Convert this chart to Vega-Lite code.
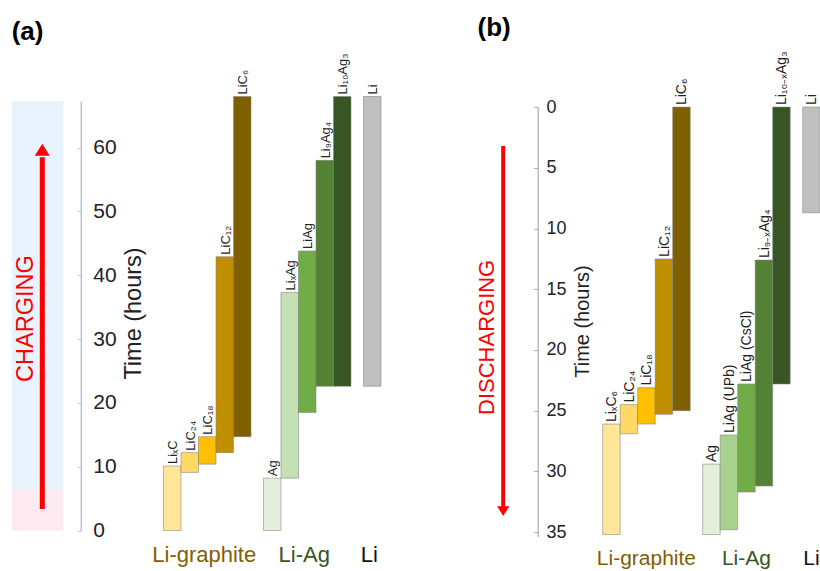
{
  "$schema": "https://vega.github.io/schema/vega-lite/v6.json",
  "padding": {"left": 11.7, "top": 15, "right": 0, "bottom": 0},
  "config": {"view": {"stroke": null}, "font": "Liberation Sans"},
  "datasets": {
    "barsA": [
      {"group": "Li-graphite", "step": 1, "label": "LiₓC", "start": 0, "end": 10.1},
      {"group": "Li-graphite", "step": 2, "label": "LiC₂₄", "start": 9.1, "end": 12.2},
      {"group": "Li-graphite", "step": 3, "label": "LiC₁₈", "start": 10.4, "end": 14.7},
      {"group": "Li-graphite", "step": 4, "label": "LiC₁₂", "start": 12.2, "end": 42.9},
      {"group": "Li-graphite", "step": 5, "label": "LiC₆", "start": 14.7, "end": 68},
      {"group": "Li-Ag", "step": 1, "label": "Ag", "start": 0, "end": 8.2},
      {"group": "Li-Ag", "step": 2, "label": "LiₓAg", "start": 8.2, "end": 37.3},
      {"group": "Li-Ag", "step": 3, "label": "LiAg", "start": 18.5, "end": 43.8},
      {"group": "Li-Ag", "step": 4, "label": "Li₉Ag₄", "start": 22.6, "end": 58.0},
      {"group": "Li-Ag", "step": 5, "label": "Li₁₀Ag₃", "start": 22.6, "end": 68},
      {"group": "Li", "step": 1, "label": "Li", "start": 22.6, "end": 68}
    ],
    "barsB": [
      {"group": "Li-graphite", "step": 1, "label": "LiₓC₆", "start": 26.1, "end": 35.2},
      {"group": "Li-graphite", "step": 2, "label": "LiC₂₄", "start": 24.5, "end": 26.9},
      {"group": "Li-graphite", "step": 3, "label": "LiC₁₈", "start": 23.1, "end": 26.1},
      {"group": "Li-graphite", "step": 4, "label": "LiC₁₂", "start": 12.5, "end": 25.3},
      {"group": "Li-graphite", "step": 5, "label": "LiC₆", "start": 0, "end": 25.0},
      {"group": "Li-Ag", "step": 1, "label": "Ag", "start": 29.4, "end": 35.2},
      {"group": "Li-Ag", "step": 2, "label": "LiAg (UPb)", "start": 27.0, "end": 34.8},
      {"group": "Li-Ag", "step": 3, "label": "LiAg (CsCl)", "start": 22.8, "end": 31.7},
      {"group": "Li-Ag", "step": 4, "label": "Li₉₋ₓAg₄", "start": 12.6, "end": 31.2},
      {"group": "Li-Ag", "step": 5, "label": "Li₁₀₋ₓAg₃", "start": 0, "end": 22.8},
      {"group": "Li", "step": 1, "label": "Li", "start": 0, "end": 8.7}
    ],
    "groups": [
      {"group": "Li-graphite", "step": 3},
      {"group": "Li-Ag", "step": 3},
      {"group": "Li", "step": 1}
    ]
  },
  "bounds": "flush",
  "spacing": 7.1,
  "resolve": {"scale": {"x": "independent", "y": "independent", "color": "independent", "xOffset": "independent"}},
  "hconcat": [
    {
      "width": 131.2,
      "height": 429.5,
      "data": {"values": [{}]},
      "layer": [
        {"mark": {"type": "rect", "color": "#e9f3fd"},
         "encoding": {
           "x": {"datum": 0, "type": "quantitative", "scale": {"domain": [0, 2.5426], "nice": false, "zero": false}, "axis": null},
           "x2": {"datum": 1},
           "y": {"datum": 6.5, "type": "quantitative", "scale": {"domain": [0, 67.3], "nice": false, "zero": false}, "axis": null},
           "y2": {"datum": 67.3}}},
        {"mark": {"type": "rect", "color": "#fdebf1"},
         "encoding": {
           "x": {"datum": 0, "type": "quantitative"},
           "x2": {"datum": 1},
           "y": {"datum": 0, "type": "quantitative"},
           "y2": {"datum": 6.5}}},
        {"mark": {"type": "rule", "color": "#ff0000", "strokeWidth": 5},
         "encoding": {
           "x": {"datum": 0.593, "type": "quantitative"},
           "y": {"datum": 3.35, "type": "quantitative"},
           "y2": {"datum": 58.5}}},
        {"mark": {"type": "point", "shape": "M-1,0.8L1,0.8L0,-0.8Z", "size": 225, "filled": true, "color": "#ff0000", "opacity": 1, "strokeWidth": 0},
         "encoding": {
           "x": {"datum": 0.593, "type": "quantitative"},
           "y": {"datum": 59.65, "type": "quantitative"}}},
        {"mark": {"type": "text", "text": "CHARGING", "angle": -90, "align": "center", "baseline": "alphabetic", "fontSize": 23.5, "color": "#ff0000", "font": "Liberation Sans"},
         "encoding": {
           "x": {"datum": 0.422, "type": "quantitative"},
           "y": {"datum": 33.2, "type": "quantitative"}}},
        {"mark": {"type": "text", "text": "(a)", "align": "left", "baseline": "alphabetic", "fontSize": 26, "fontWeight": "bold", "color": "#000000", "font": "Liberation Sans"},
         "encoding": {
           "x": {"datum": 0, "type": "quantitative"},
           "y": {"datum": 76.89, "type": "quantitative"}}}
      ]
    },
    {
      "width": 312.9,
      "height": 429.5,
      "resolve": {"scale": {"color": "independent"}},
      "layer": [
        {
          "data": {"name": "barsA"},
          "mark": {"type": "bar", "stroke": "#7f7f7f", "strokeOpacity": 0.55, "strokeWidth": 1},
          "encoding": {
            "x": {"field": "group", "type": "nominal", "scale": {"domain": ["Li-graphite", "Li-Ag", "Li"], "paddingInner": 0.125, "paddingOuter": 0.127, "round": false}, "axis": null},
            "xOffset": {"field": "step", "type": "ordinal", "scale": {"domain": [1, 2, 3, 4, 5], "paddingInner": 0, "paddingOuter": 0}},
            "y": {"field": "start", "type": "quantitative", "scale": {"domain": [0, 67.3], "nice": false, "zero": false},
              "axis": {"orient": "left", "offset": 70, "values": [0, 10, 20, 30, 40, 50, 60], "grid": false,
                "domainColor": "#b8c4d6", "domainWidth": 1.5, "tickColor": "#b8c4d6", "tickSize": 3,
                "labelAlign": "left", "labelPadding": -15, "labelFontSize": 21, "labelFont": "Liberation Sans", "labelColor": "#222222", "labelFlush": false, "labelOverlap": false,
                "title": "Time (hours)", "titleFont": "Liberation Sans", "titleFontSize": 23.5, "titleFontWeight": "normal", "titleColor": "#222222",
                "titleX": 65, "titleY": 212, "titleAngle": -90, "titleBaseline": "bottom", "titleAlign": "center"}},
            "y2": {"field": "end"},
            "color": {"field": "label", "type": "nominal",
              "scale": {"domain": ["LiₓC", "LiC₂₄", "LiC₁₈", "LiC₁₂", "LiC₆", "Ag", "LiₓAg", "LiAg", "Li₉Ag₄", "Li₁₀Ag₃", "Li"],
                        "range": ["#ffe699", "#ffd966", "#ffc000", "#bf8f00", "#7f6000", "#e2efda", "#c5e0b4", "#70ad47", "#548235", "#375623", "#bfbfbf"]},
              "legend": null}
          }
        },
        {
          "data": {"name": "barsA"},
          "mark": {"type": "text", "angle": -90, "align": "left", "baseline": "alphabetic", "dx": 2, "dy": 5, "fontSize": 13, "font": "Liberation Sans", "color": "#222222"},
          "encoding": {
            "x": {"field": "group", "type": "nominal"},
            "xOffset": {"field": "step", "type": "ordinal"},
            "y": {"field": "end", "type": "quantitative"},
            "text": {"field": "label"}
          }
        },
        {
          "data": {"name": "groups"},
          "mark": {"type": "text", "align": "center", "baseline": "alphabetic", "dx": -3, "dy": 31.3, "fontSize": 22, "font": "Liberation Sans"},
          "encoding": {
            "x": {"field": "group", "type": "nominal"},
            "xOffset": {"field": "step", "type": "ordinal"},
            "y": {"datum": 0, "type": "quantitative"},
            "text": {"field": "group"},
            "color": {"field": "group", "type": "nominal", "scale": {"domain": ["Li-graphite", "Li-Ag", "Li"], "range": ["#7f6000", "#375623", "#111111"]}, "legend": null}
          }
        }
      ]
    },
    {
      "width": 111.9,
      "height": 435.5,
      "data": {"values": [{}]},
      "layer": [
        {"mark": {"type": "rule", "color": "#ff0000", "strokeWidth": 4},
         "encoding": {
           "x": {"datum": 0.8075, "type": "quantitative", "scale": {"domain": [0, 2.7975], "nice": false, "zero": false}, "axis": null},
           "y": {"datum": 3.2, "type": "quantitative", "scale": {"domain": [0, 35.36], "range": [6.1, 435.5], "nice": false, "zero": false}, "axis": null},
           "y2": {"datum": 33.0}}},
        {"mark": {"type": "point", "shape": "M-1,-0.8L1,-0.8L0,0.8Z", "size": 151, "filled": true, "color": "#ff0000", "opacity": 1, "strokeWidth": 0},
         "encoding": {
           "x": {"datum": 0.8075, "type": "quantitative"},
           "y": {"datum": 33.27, "type": "quantitative"}}},
        {"mark": {"type": "text", "text": "DISCHARGING", "angle": -90, "align": "center", "baseline": "alphabetic", "fontSize": 22, "color": "#ff0000", "font": "Liberation Sans"},
         "encoding": {
           "x": {"datum": 0.58, "type": "quantitative"},
           "y": {"datum": 18.96, "type": "quantitative"}}},
        {"mark": {"type": "text", "text": "(b)", "align": "left", "baseline": "alphabetic", "fontSize": 26, "fontWeight": "bold", "color": "#000000", "font": "Liberation Sans"},
         "encoding": {
           "x": {"datum": 0.1675, "type": "quantitative"},
           "y": {"datum": -5.83, "type": "quantitative"}}}
      ]
    },
    {
      "width": 231,
      "height": 435.5,
      "resolve": {"scale": {"color": "independent"}},
      "layer": [
        {
          "data": {"name": "barsB"},
          "mark": {"type": "bar", "stroke": "#7f7f7f", "strokeOpacity": 0.55, "strokeWidth": 1},
          "encoding": {
            "x": {"field": "group", "type": "nominal", "scale": {"domain": ["Li-graphite", "Li-Ag", "Li"], "paddingInner": 0.125, "paddingOuter": 0.127, "round": false, "range": [0, 312.9]}, "axis": null},
            "xOffset": {"field": "step", "type": "ordinal", "scale": {"domain": [1, 2, 3, 4, 5], "paddingInner": 0, "paddingOuter": 0}},
            "y": {"field": "start", "type": "quantitative", "scale": {"domain": [0, 35.36], "range": [6.1, 435.5], "nice": false, "zero": false},
              "axis": {"orient": "left", "offset": 52.3, "values": [0, 5, 10, 15, 20, 25, 30, 35], "grid": false,
                "domainColor": "#aaaaaa", "domainWidth": 1.2, "tickColor": "#aaaaaa", "tickSize": 4,
                "labelAlign": "left", "labelPadding": -12.3, "labelFontSize": 18, "labelFont": "Liberation Sans", "labelColor": "#222222", "labelFlush": false, "labelOverlap": false,
                "title": "Time (hours)", "titleFont": "Liberation Sans", "titleFontSize": 20, "titleFontWeight": "normal", "titleColor": "#222222",
                "titleX": 55.3, "titleY": 220, "titleAngle": -90, "titleBaseline": "bottom", "titleAlign": "center"}},
            "y2": {"field": "end"},
            "color": {"field": "label", "type": "nominal",
              "scale": {"domain": ["LiₓC₆", "LiC₂₄", "LiC₁₈", "LiC₁₂", "LiC₆", "Ag", "LiAg (UPb)", "LiAg (CsCl)", "Li₉₋ₓAg₄", "Li₁₀₋ₓAg₃", "Li"],
                        "range": ["#ffe699", "#ffd966", "#ffc000", "#bf8f00", "#7f6000", "#e2efda", "#a9d18e", "#70ad47", "#548235", "#375623", "#bfbfbf"]},
              "legend": null}
          }
        },
        {
          "data": {"name": "barsB"},
          "mark": {"type": "text", "angle": -90, "align": "left", "baseline": "alphabetic", "dx": 2, "dy": 5, "fontSize": 14, "font": "Liberation Sans", "color": "#222222"},
          "encoding": {
            "x": {"field": "group", "type": "nominal"},
            "xOffset": {"field": "step", "type": "ordinal"},
            "y": {"field": "start", "type": "quantitative"},
            "text": {"field": "label"}
          }
        },
        {
          "data": {"name": "groups"},
          "mark": {"type": "text", "align": "center", "baseline": "alphabetic", "dy": 28.3, "fontSize": 21, "font": "Liberation Sans"},
          "encoding": {
            "x": {"field": "group", "type": "nominal"},
            "xOffset": {"field": "step", "type": "ordinal"},
            "y": {"datum": 35.36, "type": "quantitative"},
            "text": {"field": "group"},
            "color": {"field": "group", "type": "nominal", "scale": {"domain": ["Li-graphite", "Li-Ag", "Li"], "range": ["#7f6000", "#375623", "#111111"]}, "legend": null}
          }
        }
      ]
    }
  ]
}
